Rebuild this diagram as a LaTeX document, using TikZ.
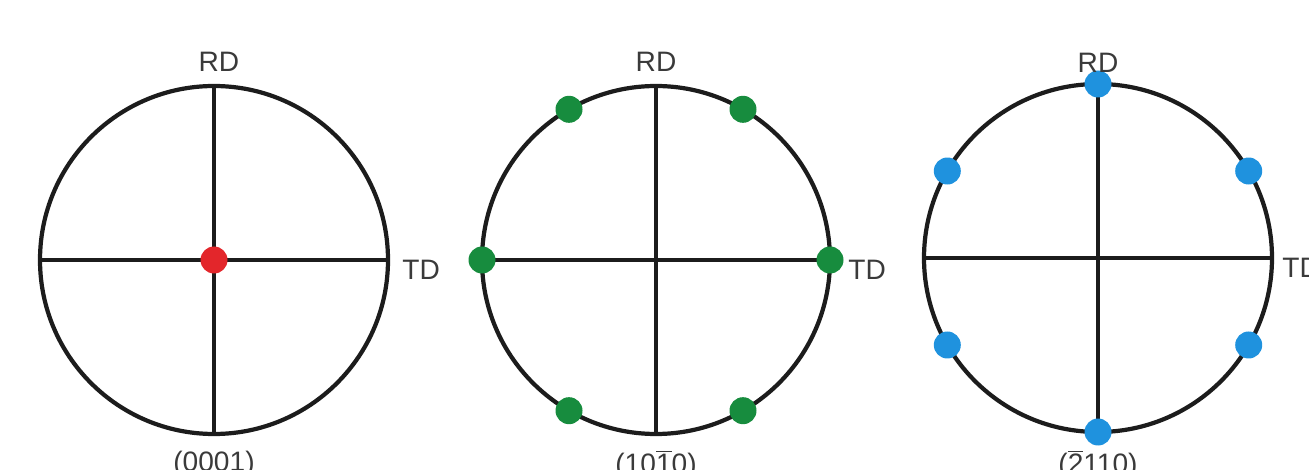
\documentclass[tikz,border=0pt]{standalone}
\usepackage{fontspec}
\setmainfont{Liberation Sans}
\usetikzlibrary{positioning}
\definecolor{ink}{HTML}{1C1C1C}
\definecolor{labgray}{HTML}{3A3A3A}
\definecolor{dotred}{HTML}{E3262B}
\definecolor{dotgreen}{HTML}{178C3E}
\definecolor{dotblue}{HTML}{1F92DE}

\begin{document}
\begin{tikzpicture}[
  pole/.style={circle,draw=ink,line width=2.4pt,minimum size=6.96cm,inner sep=0pt,outer sep=0pt},
  axis/.style={draw=ink,line width=2pt},
  lab/.style={font=\fontsize{16}{19}\selectfont,text=labgray,inner sep=0pt},
  spot/.style={circle,inner sep=0pt,minimum size=0.54cm}]
\useasboundingbox (0,0) rectangle (26.18,9.38);
% three pole figures
\node[pole] (c1) at (4.28,4.18) {};
\node[pole] (c2) at (13.12,4.18) {};
\node[pole] (c3) at (21.96,4.22) {};
\draw[axis] (c1.north) -- (c1.south);
\draw[axis] (c1.west) -- (c1.east);
\draw[axis] (c2.north) -- (c2.south);
\draw[axis] (c2.west) -- (c2.east);
\draw[axis] (c3.north) -- (c3.south);
\draw[axis] (c3.west) -- (c3.east);
% poles
\node[spot,fill=dotred] (o1) at (c1.center) {};
\node[spot,fill=dotgreen] (g0) at (c2.0) {};
\node[spot,fill=dotgreen] (g60) at (c2.60) {};
\node[spot,fill=dotgreen] (g120) at (c2.120) {};
\node[spot,fill=dotgreen] (g180) at (c2.180) {};
\node[spot,fill=dotgreen] (g240) at (c2.240) {};
\node[spot,fill=dotgreen] (g300) at (c2.300) {};
\node[spot,fill=dotblue] (b30) at (c3.30) {};
\node[spot,fill=dotblue] (b90) at (c3.90) {};
\node[spot,fill=dotblue] (b150) at (c3.150) {};
\node[spot,fill=dotblue] (b210) at (c3.210) {};
\node[spot,fill=dotblue] (b270) at (c3.270) {};
\node[spot,fill=dotblue] (b330) at (c3.330) {};
% labels
\node[lab,above=0.28cm of c1,xshift=0.1cm] (rd1) {RD};
\node[lab,above=0.28cm of c2] (rd2) {RD};
\node[lab,above=0.22cm of c3] (rd3) {RD};
\node[lab,right=0.28cm of c1,yshift=-0.2cm] (td1) {TD};
\node[lab,right=0.36cm of c2,yshift=-0.2cm] (td2) {TD};
\node[lab,right=0.2cm of c3,yshift=-0.2cm] (td3) {TD};
\node[lab,below=0.34cm of c1] (hkl1) {(0001)};
\node[lab,below=0.32cm of c2] (hkl2) {(10$\overline{\mbox{1}}$0)};
\node[lab,below=0.36cm of c3] (hkl3) {($\overline{\mbox{2}}$110)};
\end{tikzpicture}
\end{document}
